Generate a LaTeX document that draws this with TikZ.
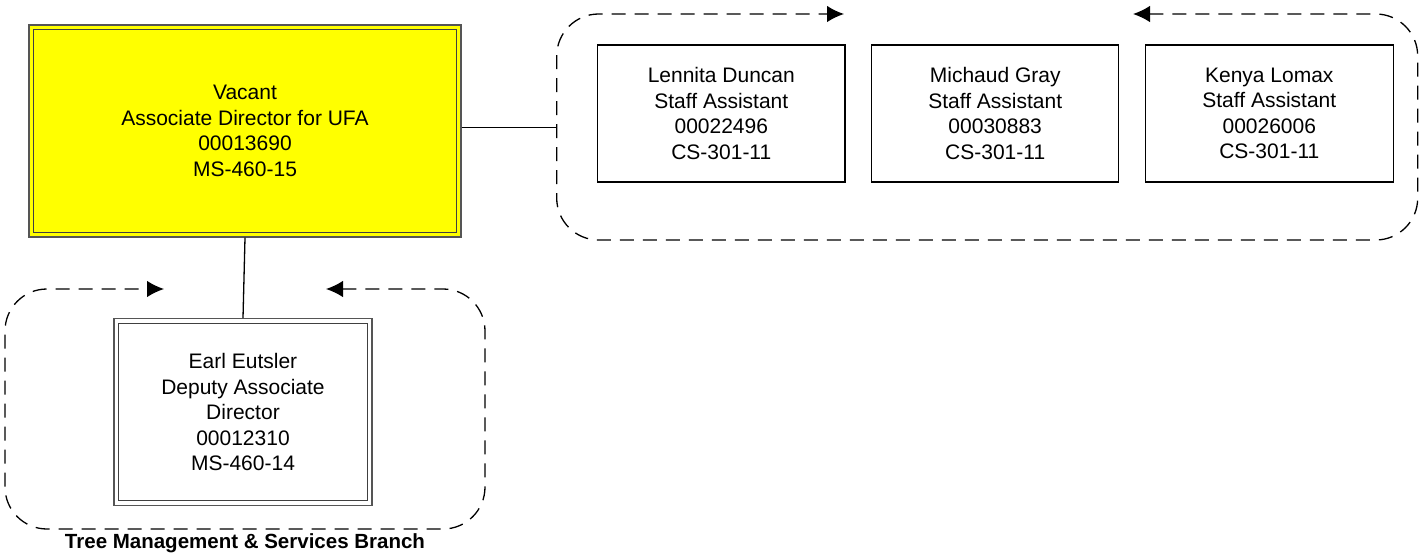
\documentclass[tikz,border=0pt]{standalone}
\usepackage{fontspec}
\setmainfont{Liberation Sans}
\usetikzlibrary{arrows.meta}
\definecolor{boxyellow}{RGB}{255,255,0}
\definecolor{framegray}{RGB}{85,85,85}
\tikzset{
  txt/.style={align=center, font=\fontsize{21}{25.5}\selectfont, text=black},
  posbox/.style={txt, draw=black, line width=1.3pt, fill=white, inner sep=0pt},
  dblbox/.style={txt, draw=framegray, line width=1.3pt, inner sep=0pt,
    path picture={\draw[black!75, line width=1pt]
      ([xshift=4.5pt,yshift=-4.5pt]path picture bounding box.north west) rectangle
      ([xshift=-4.5pt,yshift=4.5pt]path picture bounding box.south east);}},
  grpframe/.style={draw=black, line width=1.3pt, dash pattern=on 14pt off 9pt,
    rounded corners=42pt, {Latex[length=17pt,width=16.5pt]}-{Latex[length=17pt,width=16.5pt]}},
  conn/.style={draw=black, line width=1.3pt},
  grplabel/.style={font=\fontsize{20.5}{24}\selectfont\bfseries, text=black, inner sep=0pt, anchor=base}
}
\begin{document}
\begin{tikzpicture}[x=1pt,y=-1pt]
\useasboundingbox[fill=white] (0,0) rectangle (1426,556);

% top-right group frame
\draw[grpframe] (1133,14) -- (1417.7,14) -- (1417.7,240) -- (556.7,240) -- (556.7,14) -- (844,14);
% bottom-left group frame
\draw[grpframe] (326,289) -- (485,289) -- (485,529) -- (5,529) -- (5,289) -- (164,289);

% nodes
\node[dblbox, fill=boxyellow, minimum width=432pt, minimum height=212pt] (ad) at (245,131)
  {Vacant\\Associate Director for UFA\\00013690\\MS-460-15};
\node[dblbox, fill=white, minimum width=258pt, minimum height=186.5pt] (earl) at (243,412)
  {Earl Eutsler\\Deputy Associate\\Director\\00012310\\MS-460-14};
\node[posbox, minimum width=247.5pt, minimum height=137pt] (s1) at (721.3,113.5)
  {Lennita Duncan\\Staff Assistant\\00022496\\CS-301-11};
\node[posbox, minimum width=247pt, minimum height=137pt] (s2) at (995.2,113.5)
  {Michaud Gray\\Staff Assistant\\00030883\\CS-301-11};
\node[posbox, minimum width=248pt, minimum height=137pt] (s3) at (1269.3,113.5)
  {Kenya Lomax\\Staff Assistant\\00026006\\CS-301-11};

\node[grplabel] (lbl) at (245,548.3) {Tree Management \& Services Branch};

% connectors
\coordinate (g1w) at (556.7,127.7);
\draw[conn] (ad.east |- g1w) -- (g1w);
\draw[conn] (ad.south) -- (earl.north);
\end{tikzpicture}
\end{document}
